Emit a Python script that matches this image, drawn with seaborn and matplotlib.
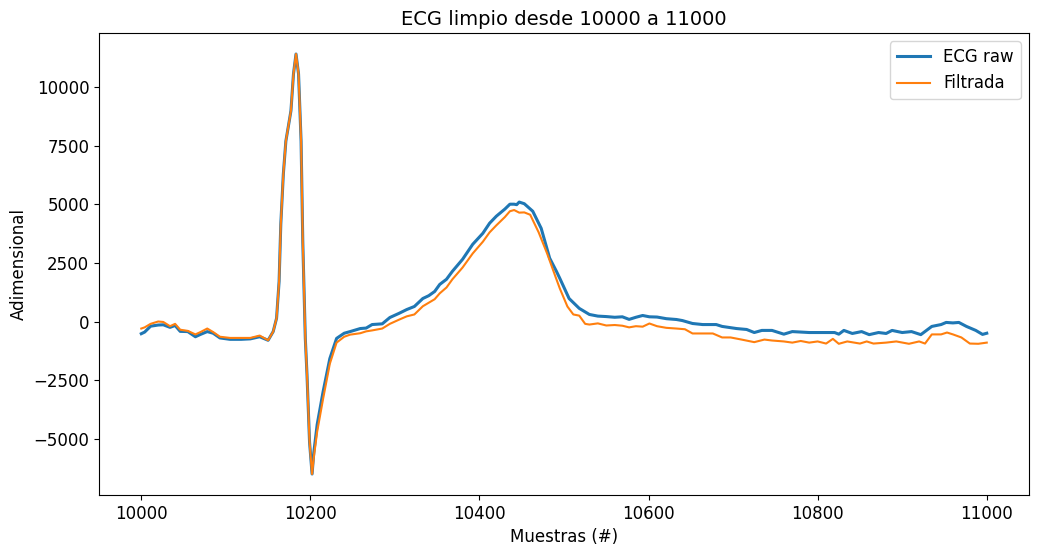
import matplotlib
matplotlib.use('Agg')
import matplotlib.pyplot as plt
import seaborn as sns

# ------------------- Data -------------------
raw_x = [10000, 10004, 10011, 10020, 10026, 10034, 10040, 10046, 10055, 10064,
         10070, 10078, 10085, 10093, 10105, 10118, 10129, 10140, 10150, 10156,
         10160, 10163, 10165, 10168, 10171, 10174, 10177, 10180, 10183, 10186,
         10189, 10191, 10194, 10196, 10199, 10202, 10204, 10208, 10215, 10223,
         10231, 10240, 10247, 10259, 10266, 10273, 10285, 10294, 10305, 10314,
         10323, 10333, 10340, 10347, 10353, 10361, 10368, 10380, 10392, 10404,
         10412, 10420, 10430, 10436, 10441, 10444, 10447, 10453, 10463, 10473,
         10483, 10491, 10495, 10506, 10518, 10530, 10540, 10550, 10560, 10569,
         10577, 10585, 10593, 10601, 10610, 10621, 10633, 10640, 10652, 10664,
         10680, 10687, 10704, 10716, 10725, 10734, 10746, 10760, 10770, 10790,
         10810, 10820, 10825, 10831, 10841, 10852, 10861, 10872, 10881, 10888,
         10900, 10911, 10922, 10935, 10946, 10952, 10960, 10967, 10976, 10987,
         10995, 11000]
raw_y = [-520, -450, -200, -150, -140, -250, -170, -420, -430, -650,
         -550, -430, -500, -700, -760, -760, -740, -650, -800, -430,
         140, 1710, 4140, 6280, 7690, 8330, 8980, 10550, 11400, 10550,
         7690, 3420, -720, -2270, -5130, -6500, -5600, -4400, -3000, -1580,
         -720, -500, -430, -300, -280, -130, -100, 170, 350, 510,
         640, 980, 1100, 1280, 1580, 1800, 2140, 2650, 3290, 3760,
         4190, 4490, 4790, 5000, 5000, 4980, 5090, 5020, 4700, 3970,
         2700, 2140, 1840, 980, 560, 300, 230, 210, 180, 200,
         90, 180, 256, 200, 190, 120, 85, 40, -85, -130,
         -130, -210, -300, -340, -470, -380, -380, -540, -430, -470,
         -470, -470, -540, -380, -510, -430, -560, -470, -510, -380,
         -470, -430, -560, -210, -130, -40, -60, -40, -210, -380,
         -550, -500]

filt_x = [10000, 10004, 10011, 10020, 10026, 10034, 10040, 10046, 10055, 10064,
          10070, 10078, 10085, 10093, 10105, 10118, 10129, 10140, 10150, 10156,
          10160, 10163, 10165, 10168, 10171, 10174, 10177, 10180, 10183, 10186,
          10189, 10191, 10194, 10196, 10199, 10202, 10204, 10208, 10215, 10223,
          10231, 10240, 10247, 10259, 10266, 10273, 10285, 10294, 10305, 10314,
          10323, 10333, 10340, 10347, 10353, 10361, 10368, 10380, 10392, 10404,
          10412, 10420, 10430, 10436, 10441, 10447, 10453, 10460, 10470, 10480,
          10490, 10495, 10504, 10511, 10518, 10525, 10530, 10540, 10550, 10560,
          10569, 10577, 10585, 10593, 10601, 10610, 10621, 10633, 10643, 10652,
          10664, 10676, 10687, 10697, 10710, 10725, 10737, 10746, 10760, 10770,
          10780, 10790, 10800, 10810, 10818, 10825, 10835, 10850, 10858, 10866,
          10881, 10893, 10908, 10920, 10927, 10935, 10946, 10953, 10960, 10970,
          10980, 10990, 11000]
filt_y = [-300, -250, -100, 0, -20, -200, -100, -350, -400, -550,
          -450, -300, -450, -650, -700, -700, -700, -600, -800, -430,
          140, 1710, 4140, 6280, 7690, 8330, 8980, 10550, 11400, 10550,
          7690, 3420, -720, -2270, -5130, -6500, -5800, -4700, -3300, -1800,
          -900, -650, -560, -500, -420, -380, -300, -100, 80, 220,
          300, 650, 800, 950, 1200, 1450, 1800, 2300, 2900, 3400,
          3800, 4100, 4450, 4700, 4750, 4640, 4650, 4550, 3800, 2900,
          1900, 1410, 640, 300, 250, -100, -130, -80, -170, -150,
          -180, -250, -200, -220, -85, -200, -270, -300, -330, -510,
          -510, -510, -680, -680, -770, -880, -770, -810, -850, -900,
          -830, -900, -850, -940, -740, -950, -850, -940, -850, -940,
          -900, -850, -950, -850, -940, -550, -550, -470, -550, -680,
          -940, -950, -900]

# ------------------- Plot -------------------
plt.rcParams['font.size'] = 12
fig = plt.figure(figsize=(10.39, 5.56), dpi=100)
ax = fig.add_axes([0.0953, 0.1097, 0.8951, 0.8309])

sns.lineplot(x=raw_x, y=raw_y, ax=ax, color='#1f77b4', linewidth=2.2, label='ECG raw')
sns.lineplot(x=filt_x, y=filt_y, ax=ax, color='#ff7f0e', linewidth=1.5, label='Filtrada')

ax.set_title('ECG limpio desde 10000 a 11000', fontsize=14)
ax.set_xlabel('Muestras (#)')
ax.set_ylabel('Adimensional')
ax.legend(loc='upper right')

fig.savefig('out.png', dpi=100)
